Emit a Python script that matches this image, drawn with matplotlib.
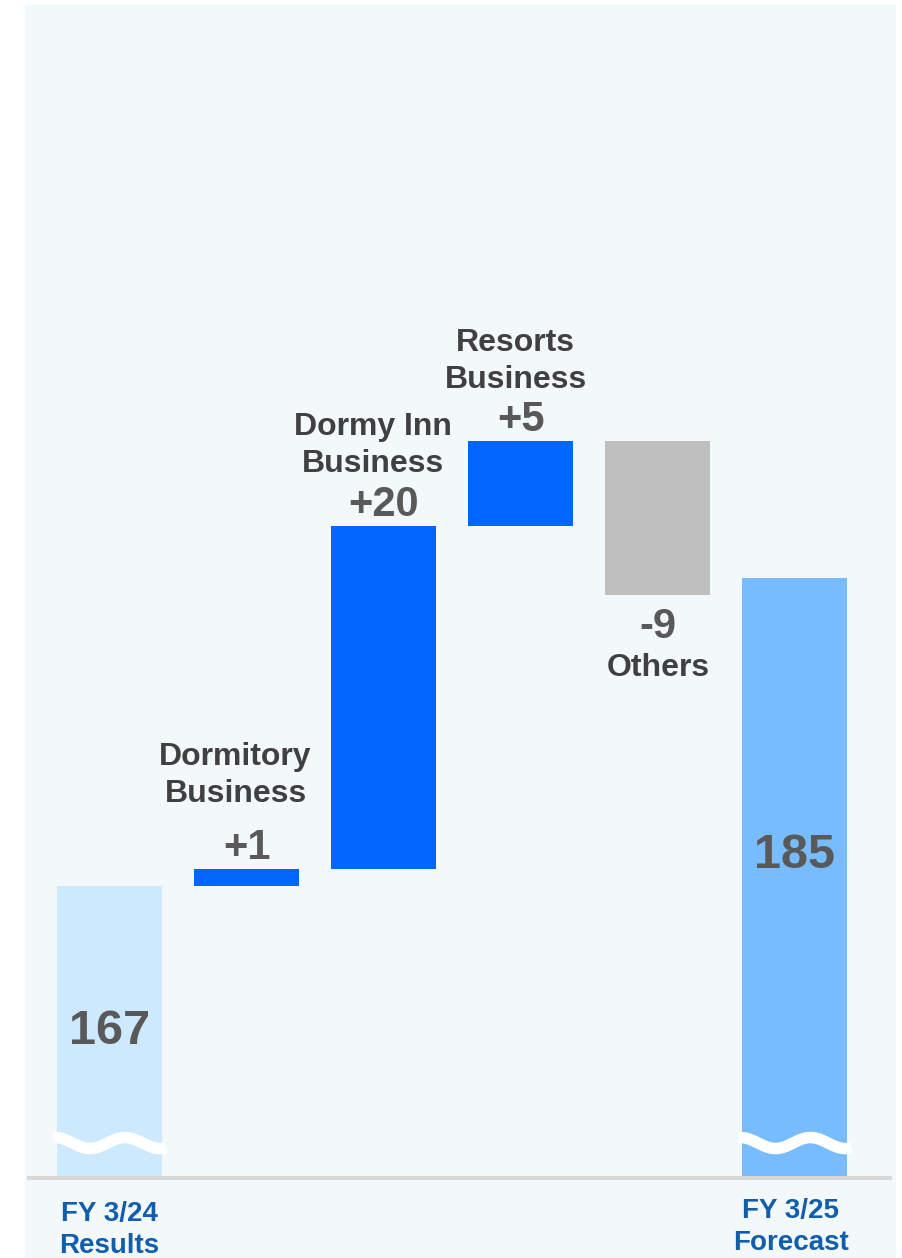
import matplotlib
matplotlib.use("Agg")
import matplotlib.pyplot as plt
from matplotlib.patches import Rectangle
import numpy as np

plt.rcParams['font.family'] = ['Liberation Sans', 'DejaVu Sans']
plt.rcParams['font.weight'] = 'bold'

# data
start_value = 167
end_value = 185
step_names = ['Dormitory\nBusiness', 'Dormy Inn\nBusiness', 'Resorts\nBusiness', 'Others']
step_values = [1, 20, 5, -9]
start_label = 'FY 3/24\nResults'
end_label = 'FY 3/25\nForecast'
axis_floor = 150  # broken axis base

# colours
c_start = '#cce9fd'
c_end = '#77bcff'
c_up = '#0066ff'
c_down = '#bfbfbf'
c_name = '#404040'
c_val = '#595959'
c_axis = '#105eac'

W, H = 903, 1258
fig = plt.figure(figsize=(W / 100, H / 100), dpi=100)
fig.patch.set_facecolor('white')
fig.add_artist(Rectangle((25 / W, 0), 870 / W, 1253 / H, transform=fig.transFigure,
                         color='#f3f8fb', zorder=0))

ax = fig.add_axes([29 / W, 80 / H, 861 / W, 1173 / H])
ax.set_facecolor('none')
ax.set_xlim(-0.587, 5.693)
ax.set_ylim(axis_floor, axis_floor + 1173 / 17.15)
ax.axis('off')

# waterfall geometry
n = len(step_values)
xs = np.arange(n + 2)
bottoms = [axis_floor]
heights = [start_value - axis_floor]
cols = [c_start]
level = start_value
for v in step_values:
    bottoms.append(min(level, level + v))
    heights.append(abs(v))
    cols.append(c_up if v > 0 else c_down)
    level += v
bottoms.append(axis_floor)
heights.append(end_value - axis_floor)
cols.append(c_end)

ax.bar(xs, heights, bottom=bottoms, width=0.766, color=cols, zorder=2)
ax.axhline(axis_floor, color='#d9d9d9', lw=2.9, clip_on=False, zorder=3)

# break marks on the total bars
for i in (0, n + 1):
    wx = np.linspace(i - 0.412, i + 0.412, 120)
    wy = axis_floor + 2.04 + 0.32 * np.cos(2 * np.pi * (wx - i - 0.113) / 0.51)
    ax.plot(wx, wy, color='white', lw=8.3, solid_capstyle='butt', zorder=4)

# total labels inside bars
tot_off = [-145, -278]
for j, (i, val) in enumerate([(0, start_value), (n + 1, end_value)]):
    ax.annotate(str(val), xy=(i, val), xytext=(0, tot_off[j]), textcoords='offset pixels',
                ha='center', va='center', fontsize=35, color=c_val, zorder=5)

# step labels
name_dx = [-11, -11, -5, 0]
name_dy = [94, 81, 79, -73]
for k, v in enumerate(step_values):
    i = k + 1
    top = bottoms[i] + heights[i]
    txt = '+%d' % v if v > 0 else '%d' % v
    if v > 0:
        ax.annotate(txt, xy=(i, top), xytext=(0, 10), textcoords='offset pixels',
                    ha='center', va='baseline', fontsize=30, color=c_val)
        ax.annotate(step_names[k], xy=(i, top), xytext=(name_dx[k], name_dy[k]),
                    textcoords='offset pixels', ha='center', va='center',
                    fontsize=23, color=c_name, linespacing=1.32)
    else:
        bot = bottoms[i]
        ax.annotate(txt, xy=(i, bot), xytext=(0, -32), textcoords='offset pixels',
                    ha='center', va='center', fontsize=30, color=c_val)
        ax.annotate(step_names[k], xy=(i, bot), xytext=(name_dx[k], name_dy[k]),
                    textcoords='offset pixels', ha='center', va='center',
                    fontsize=23, color=c_name)

# category labels below axis
for i, lab, dx, dy in [(0, start_label, 0, -52), (n + 1, end_label, -4, -49)]:
    ax.annotate(lab, xy=(i, axis_floor), xytext=(dx, dy), textcoords='offset pixels',
                ha='center', va='center', fontsize=20, color=c_axis, linespacing=1.3,
                annotation_clip=False)

fig.savefig('out.png', dpi=100)
